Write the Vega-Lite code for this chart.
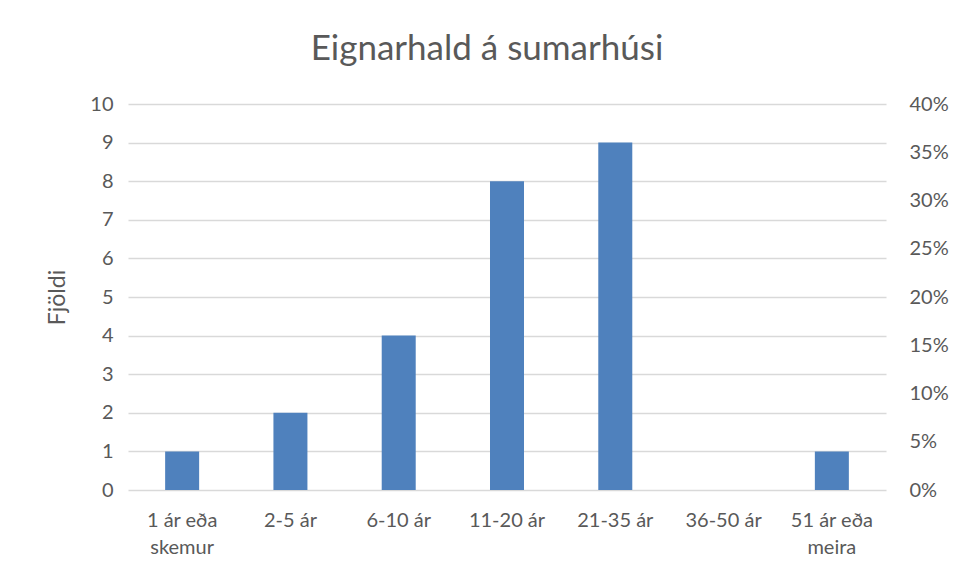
{
  "$schema": "https://vega.github.io/schema/vega-lite/v6.json",
  "width": 758,
  "height": 386,
  "autosize": {"type": "none"},
  "padding": {"left": 128, "top": 104, "right": 71, "bottom": 88},
  "background": "white",
  "config": {
    "font": "Lato",
    "view": {"stroke": null}
  },
  "title": {
    "text": "Eignarhald á sumarhúsi",
    "font": "Lato",
    "fontSize": 35,
    "fontWeight": "normal",
    "color": "#595959",
    "anchor": "middle",
    "frame": "group",
    "dx": -20,
    "offset": 27
  },
  "data": {
    "values": [
      {"flokkur": "1 ár eða skemur", "fjoldi": 1, "hlutfall": 0.04},
      {"flokkur": "2-5 ár", "fjoldi": 2, "hlutfall": 0.08},
      {"flokkur": "6-10 ár", "fjoldi": 4, "hlutfall": 0.16},
      {"flokkur": "11-20 ár", "fjoldi": 8, "hlutfall": 0.32},
      {"flokkur": "21-35 ár", "fjoldi": 9, "hlutfall": 0.36},
      {"flokkur": "36-50 ár", "fjoldi": 0, "hlutfall": 0},
      {"flokkur": "51 ár eða meira", "fjoldi": 1, "hlutfall": 0.04}
    ]
  },
  "encoding": {
    "x": {
      "field": "flokkur",
      "type": "nominal",
      "sort": null,
      "scale": {"paddingInner": 0.686, "paddingOuter": 0.343},
      "axis": {
        "title": null,
        "domain": false,
        "ticks": false,
        "labelAngle": 0,
        "labelFontSize": 20,
        "labelColor": "#595959",
        "labelPadding": 20,
        "labelLineHeight": 27,
        "labelExpr": "datum.label == '1 ár eða skemur' ? ['1 ár eða', 'skemur'] : datum.label == '51 ár eða meira' ? ['51 ár eða', 'meira'] : datum.label"
      }
    }
  },
  "layer": [
    {
      "mark": {"type": "bar", "color": "#4f81bd"},
      "encoding": {
        "y": {
          "field": "fjoldi",
          "type": "quantitative",
          "scale": {"domain": [0, 10], "nice": false},
          "axis": {
            "title": "Fjöldi",
            "titleFontSize": 23,
            "titleFontWeight": "normal",
            "titleColor": "#595959",
            "titlePadding": 20,
            "values": [0, 1, 2, 3, 4, 5, 6, 7, 8, 9, 10],
            "domain": false,
            "ticks": false,
            "grid": true,
            "gridColor": "#d9d9d9",
            "gridWidth": 1.5,
            "labelFontSize": 20,
            "labelColor": "#595959",
            "labelPadding": 15
          }
        }
      }
    },
    {
      "mark": {"type": "bar", "opacity": 0},
      "encoding": {
        "y": {
          "field": "hlutfall",
          "type": "quantitative",
          "scale": {"domain": [0, 0.4], "nice": false},
          "axis": {
            "orient": "right",
            "title": null,
            "format": ".0%",
            "values": [0, 0.05, 0.1, 0.15, 0.2, 0.25, 0.3, 0.35, 0.4],
            "domain": false,
            "ticks": false,
            "grid": false,
            "labelFontSize": 20,
            "labelColor": "#595959",
            "labelPadding": 23
          }
        }
      }
    }
  ],
  "resolve": {"scale": {"y": "independent"}}
}
